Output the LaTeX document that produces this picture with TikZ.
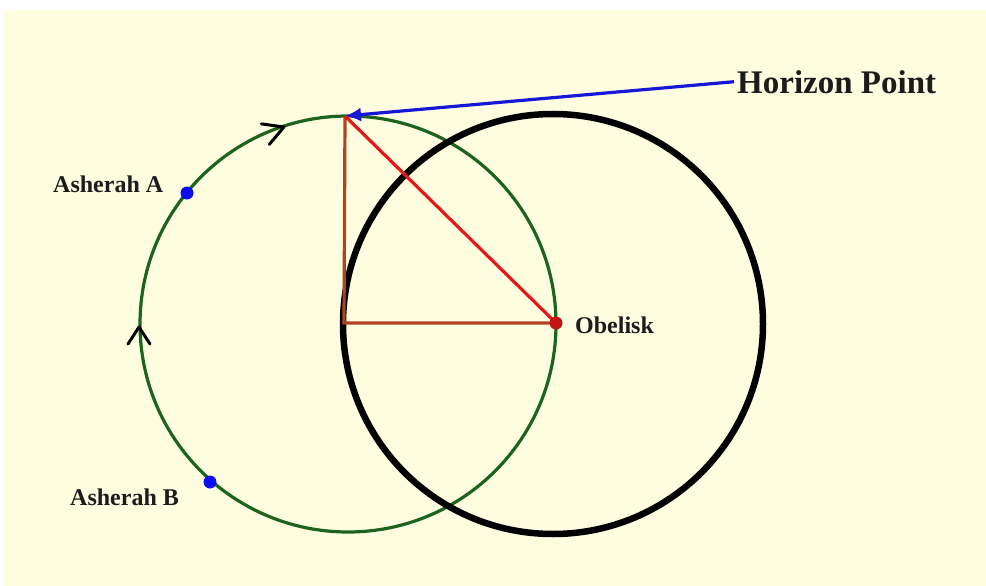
\documentclass[tikz,border=0pt]{standalone}
\usepackage{fontspec}
\setmainfont{Liberation Serif}
\usetikzlibrary{arrows.meta}
\definecolor{bgcream}{RGB}{255,253,224}
\definecolor{orbitgreen}{RGB}{28,100,30}
\definecolor{triBrown}{RGB}{176,68,34}
\definecolor{triRed}{RGB}{228,24,24}
\definecolor{ptrBlue}{RGB}{22,22,215}
\definecolor{dotBlue}{RGB}{12,12,240}
\definecolor{txtDark}{RGB}{28,28,28}
\tikzset{
  orbit/.style={draw=orbitgreen, line width=3.2pt},
  shadow/.style={draw=black, line width=6.5pt},
  legbrown/.style={draw=triBrown, line width=3.2pt},
  hypred/.style={draw=triRed, line width=3.2pt},
  pointer/.style={draw=ptrBlue, line width=3.2pt, -{Latex[length=16pt,width=14pt]}},
  chev/.style={draw=black, line width=3pt, line cap=round, line join=round},
  bluedot/.style={circle, fill=dotBlue, minimum size=13pt, inner sep=0pt},
  reddot/.style={circle, fill=triRed!85!black, minimum size=13pt, inner sep=0pt},
  lbl/.style={inner sep=0pt, text=txtDark, font=\bfseries\fontsize{24}{28}\selectfont},
  biglbl/.style={inner sep=0pt, text=txtDark, font=\bfseries\fontsize{33}{38}\selectfont}
}
\begin{document}
\begin{tikzpicture}[x=1pt,y=-1pt]
\useasboundingbox (0,0) rectangle (986,586);
\fill[white] (0,0) rectangle (986,586);
\fill[bgcream] (4,10) rectangle (986,586);
% circles
\coordinate (G) at (348,324);
\coordinate (O) at (556,323);
\coordinate (K) at (553,324);
\path[orbit] (G) circle[radius=208pt];
\path[shadow] (K) circle[radius=210pt];
% triangle
\coordinate (H) at (345,116);
\coordinate (C) at (344,323);
\draw[legbrown] (H) -- (C) -- (O);
\draw[hypred] (H) -- (O);
% dots
\node[reddot] (obdot) at (O) {};
\node[bluedot] (adot) at (187,193) {};
\node[bluedot] (bdot) at (210,482) {};
% labels
\node[lbl, anchor=base west] (oblbl) at (575,333) {Obelisk};
\node[lbl, anchor=base west] (alb) at (53,192) {Asherah A};
\node[lbl, anchor=base west] (blb) at (70,505) {Asherah B};
\node[biglbl, anchor=base west] (hlbl) at (737,93) {Horizon Point};
% pointer
\draw[pointer] ([xshift=-3pt]hlbl.west) -- (H);
% direction chevrons
\coordinate (t1) at (284,127);
\coordinate (t2) at (139,327);
\draw[chev, rotate around={21:(t1)}] ([shift={(-20,-11)}]t1) -- (t1) -- ([shift={(-20,11)}]t1);
\draw[chev, rotate around={90:(t2)}] ([shift={(-17,-11)}]t2) -- (t2) -- ([shift={(-17,11)}]t2);
\end{tikzpicture}
\end{document}
